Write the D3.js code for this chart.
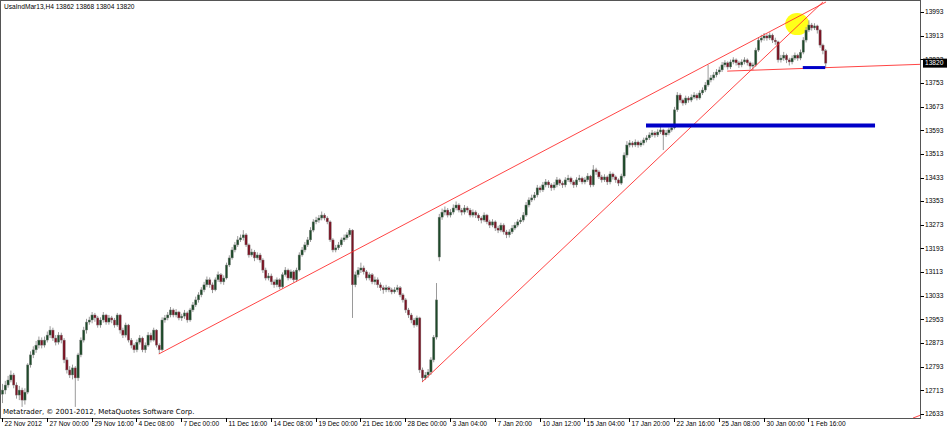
<!DOCTYPE html>
<html><head><meta charset="utf-8">
<script src="https://cdn.jsdelivr.net/npm/d3@7"></script>
<style>body{margin:0;background:#fff}svg{display:block}text{font-family:"Liberation Sans",Arial,sans-serif;font-size:6.6px;fill:#000}</style>
</head><body><svg id="c" width="949" height="429"></svg>
<script>
const opens=[12700,12714,12731,12748,12765,12731,12697,12714,12680,12707,12799,12833,12850,12866,12883,12866,12883,12900,12917,12890,12876,12900,12883,12816,12782,12765,12789,12755,12833,12883,12917,12944,12951,12968,12958,12934,12951,12968,12944,12958,12951,12934,12968,12917,12900,12934,12883,12866,12850,12876,12890,12850,12866,12900,12883,12917,12866,12850,12951,12958,12968,12985,12968,12978,12958,12964,12975,12951,12985,13002,13019,13036,13053,13070,13087,13070,13053,13087,13104,13080,13093,13137,13161,13188,13205,13222,13229,13239,13205,13171,13181,13161,13171,13154,13120,13093,13100,13080,13070,13087,13063,13104,13120,13093,13114,13087,13120,13171,13188,13205,13222,13255,13283,13289,13296,13306,13296,13283,13222,13188,13195,13205,13222,13229,13239,13255,13070,13104,13120,13127,13114,13093,13104,13080,13087,13070,13060,13053,13060,13053,13046,13053,13060,13036,13019,12985,12968,12951,12934,12958,12782,12755,12765,12775,12816,12893,13164,13299,13316,13323,13306,13316,13330,13340,13323,13316,13330,13323,13306,13316,13306,13296,13289,13306,13283,13272,13283,13262,13255,13272,13249,13239,13249,13262,13272,13283,13289,13306,13340,13357,13364,13374,13398,13391,13408,13418,13408,13398,13408,13425,13414,13408,13425,13431,13418,13408,13425,13431,13418,13425,13438,13408,13459,13452,13435,13425,13435,13418,13445,13435,13425,13414,13438,13509,13543,13550,13543,13553,13543,13550,13560,13567,13577,13584,13577,13587,13594,13577,13584,13594,13601,13662,13712,13695,13685,13702,13695,13705,13712,13702,13719,13729,13746,13763,13770,13780,13790,13797,13814,13821,13807,13824,13831,13821,13814,13824,13831,13821,13810,13814,13864,13898,13905,13912,13905,13915,13898,13892,13831,13837,13847,13831,13824,13837,13847,13837,13857,13898,13932,13949,13939,13946,13932,13881,13862];
const highs=[12735,12745,12762,12780,12772,12740,12728,12722,12720,12805,12845,12862,12880,12895,12892,12895,12912,12930,12925,12900,12910,12908,12890,12825,12795,12800,12795,12840,12892,12928,12955,12962,12978,12975,12965,12960,12978,12972,12968,12965,12958,12975,12972,12925,12942,12938,12890,12872,12885,12900,12895,12875,12910,12908,12925,12920,12872,12960,12968,12978,12995,12990,12988,12982,12972,12985,12980,12992,13012,13030,13045,13062,13080,13098,13095,13078,13095,13115,13110,13102,13145,13170,13198,13215,13235,13240,13255,13245,13210,13192,13188,13180,13178,13160,13128,13110,13108,13088,13095,13092,13112,13130,13125,13122,13120,13128,13180,13198,13215,13232,13265,13292,13300,13306,13318,13312,13302,13288,13228,13205,13215,13230,13240,13248,13262,13258,13115,13130,13145,13135,13120,13112,13110,13098,13095,13078,13068,13070,13066,13060,13062,13070,13066,13042,13025,12992,12975,12958,12966,12962,12790,12775,12785,12825,12900,13076,13310,13328,13335,13330,13326,13342,13352,13346,13330,13340,13336,13330,13325,13322,13312,13302,13315,13310,13290,13292,13288,13270,13280,13278,13256,13258,13272,13282,13292,13298,13316,13350,13366,13375,13384,13408,13405,13418,13428,13424,13414,13418,13435,13430,13420,13434,13442,13436,13424,13434,13442,13436,13434,13448,13442,13475,13466,13458,13442,13444,13440,13454,13450,13440,13430,13446,13518,13556,13560,13556,13562,13558,13558,13568,13576,13586,13594,13590,13596,13604,13598,13594,13602,13612,13672,13722,13718,13700,13710,13708,13714,13722,13718,13728,13738,13756,13814,13780,13790,13800,13808,13824,13830,13826,13832,13840,13836,13828,13833,13840,13836,13826,13822,13872,13908,13916,13922,13920,13924,13920,13906,13896,13848,13858,13852,13838,13846,13856,13852,13866,13908,13942,13965,13956,13955,13950,13936,13886,13868];
const lows=[12670,12700,12722,12740,12720,12685,12680,12657,12665,12700,12790,12822,12840,12855,12855,12858,12875,12890,12880,12865,12868,12872,12805,12770,12755,12750,12657,12745,12825,12875,12905,12935,12940,12945,12925,12925,12942,12935,12935,12940,12925,12928,12905,12890,12892,12875,12855,12840,12842,12868,12842,12840,12860,12875,12878,12858,12836,12845,12942,12950,12960,12960,12960,12950,12948,12955,12942,12945,12978,12995,13010,13028,13045,13062,13060,13042,13048,13080,13072,13070,13088,13130,13155,13180,13198,13215,13220,13198,13162,13165,13150,13155,13145,13110,13085,13085,13070,13060,13062,13055,13058,13098,13085,13088,13078,13080,13115,13165,13180,13198,13215,13248,13275,13280,13288,13288,13275,13215,13180,13180,13188,13198,13215,13222,13232,12958,13062,13095,13110,13105,13085,13085,13072,13070,13060,13050,13040,13045,13045,13038,13040,13045,13028,13010,12975,12958,12940,12925,12928,12772,12741,12748,12755,12765,12808,12885,13150,13290,13305,13298,13298,13308,13322,13315,13305,13308,13314,13298,13298,13296,13286,13278,13282,13275,13262,13265,13252,13245,13248,13240,13228,13230,13242,13255,13265,13276,13282,13300,13332,13350,13356,13366,13382,13384,13400,13398,13388,13390,13400,13405,13398,13400,13418,13410,13398,13400,13418,13410,13410,13418,13400,13402,13442,13428,13416,13418,13408,13410,13426,13415,13404,13408,13432,13500,13535,13535,13536,13534,13536,13542,13552,13560,13570,13568,13570,13580,13526,13570,13576,13588,13596,13655,13686,13676,13678,13686,13688,13698,13694,13696,13712,13722,13740,13755,13762,13772,13782,13790,13806,13798,13800,13816,13812,13804,13806,13816,13812,13798,13796,13808,13858,13890,13896,13896,13898,13888,13882,13822,13822,13828,13820,13812,13816,13830,13828,13830,13850,13890,13925,13930,13932,13920,13872,13850,13804];
const closes=[12714,12731,12748,12765,12731,12697,12714,12680,12707,12799,12833,12850,12866,12883,12866,12883,12900,12917,12890,12876,12900,12883,12816,12782,12765,12789,12755,12833,12883,12917,12944,12951,12968,12958,12934,12951,12968,12944,12958,12951,12934,12968,12917,12900,12934,12883,12866,12850,12876,12890,12850,12866,12900,12883,12917,12866,12850,12951,12958,12968,12985,12968,12978,12958,12964,12975,12951,12985,13002,13019,13036,13053,13070,13087,13070,13053,13087,13104,13080,13093,13137,13161,13188,13205,13222,13229,13239,13205,13171,13181,13161,13171,13154,13120,13093,13100,13080,13070,13087,13063,13104,13120,13093,13114,13087,13120,13171,13188,13205,13222,13255,13283,13289,13296,13306,13296,13283,13222,13188,13195,13205,13222,13229,13239,13255,13070,13104,13120,13127,13114,13093,13104,13080,13087,13070,13060,13053,13060,13053,13046,13053,13060,13036,13019,12985,12968,12951,12934,12958,12782,12755,12765,12775,12816,12893,13019,13299,13316,13323,13306,13316,13330,13340,13323,13316,13330,13323,13306,13316,13306,13296,13289,13306,13283,13272,13283,13262,13255,13272,13249,13239,13249,13262,13272,13283,13289,13306,13340,13357,13364,13374,13398,13391,13408,13418,13408,13398,13408,13425,13414,13408,13425,13431,13418,13408,13425,13431,13418,13425,13438,13408,13459,13452,13435,13425,13435,13418,13445,13435,13425,13414,13438,13509,13543,13550,13543,13553,13543,13550,13560,13567,13577,13584,13577,13587,13594,13577,13584,13594,13601,13662,13712,13695,13685,13702,13695,13705,13712,13702,13719,13729,13746,13763,13770,13780,13790,13797,13814,13821,13807,13824,13831,13821,13814,13824,13831,13821,13810,13814,13864,13898,13905,13912,13905,13915,13898,13892,13831,13837,13847,13831,13824,13837,13847,13837,13857,13898,13932,13949,13939,13946,13932,13881,13862,13820];
const xLabels=["22 Nov 2012","27 Nov 00:00","29 Nov 16:00","4 Dec 08:00","7 Dec 00:00","11 Dec 16:00","14 Dec 08:00","19 Dec 00:00","21 Dec 16:00","28 Dec 00:00","3 Jan 04:00","7 Jan 20:00","10 Jan 12:00","15 Jan 04:00","17 Jan 20:00","22 Jan 16:00","25 Jan 08:00","30 Jan 00:00","1 Feb 16:00"];
const xLabelIdx=[0,16,32,48,64,80,96,112,128,144,160,176,192,208,224,240,256,272,288];
const yTicks=[12633,12713,12793,12873,12953,13033,13113,13193,13273,13353,13433,13513,13593,13673,13753,13833,13913,13993];
const title="UsaIndMar13,H4  13862 13868 13804 13820";
const copyright="Metatrader, © 2001-2012, MetaQuotes Software Corp.";
const lastPrice=13820;
// trend objects: [idx1, price1, idx2, price2]
const redLines=[[56,12836,294.3,14027],[150,12741,293.2,14027],[259,13793,328,13816]];
const blueLines=[[230,13609,311.8,13609,4],[286,13805,294,13805,3]];
const circle=[284,13952];

const svg=d3.select("#c");
const L=1,R=920,T=1,B=418;
const x=d3.scaleLinear().domain([0,294]).range([2,825.2]);
const y=d3.scaleLinear().domain([12633,13993]).range([414,12]);
svg.append("defs").append("clipPath").attr("id","cp").append("rect").attr("x",L).attr("y",T).attr("width",R-L).attr("height",B-T);
const g=svg.append("g").attr("clip-path","url(#cp)");
g.append("ellipse").attr("cx",x(circle[0])).attr("cy",y(circle[1])).attr("rx",12).attr("ry",11).attr("fill","#ffff00").attr("opacity",0.9);
const data=closes.map((c,i)=>({i,o:opens[i],h:highs[i],l:lows[i],c}));
g.selectAll("line.w").data(data).join("line").attr("x1",d=>x(d.i)+0.5).attr("x2",d=>x(d.i)+0.5).attr("y1",d=>y(d.h)).attr("y2",d=>y(d.l)).attr("stroke","#9a9a9a").attr("stroke-width",1);
g.selectAll("rect.b").data(data).join("rect").attr("x",d=>x(d.i)-0.7).attr("width",2.4).attr("y",d=>y(Math.max(d.o,d.c))).attr("height",d=>Math.max(1,Math.abs(y(d.o)-y(d.c)))).attr("fill",d=>d.c>=d.o?"#1e4a2a":"#7a1424").attr("stroke","#8a8a8a").attr("stroke-width",0.4);
redLines.forEach(l=>g.append("line").attr("x1",x(l[0])).attr("y1",y(l[1])).attr("x2",x(l[2])).attr("y2",y(l[3])).attr("stroke","#ff3030").attr("stroke-width",0.9));
blueLines.forEach(l=>g.append("line").attr("x1",x(l[0])).attr("y1",y(l[1])).attr("x2",x(l[2])).attr("y2",y(l[3])).attr("stroke","#0000c8").attr("stroke-width",l[4]));
svg.append("line").attr("x1",913).attr("y1",418).attr("x2",921).attr("y2",415).attr("stroke","#ff3030").attr("stroke-width",0.9);
// frame
svg.append("rect").attr("x",0.5).attr("y",0.5).attr("width",R).attr("height",B).attr("fill","none").attr("stroke","#555").attr("stroke-width",1);
// y axis
yTicks.forEach(v=>{svg.append("line").attr("x1",R+0.5).attr("x2",R+4).attr("y1",Math.round(y(v))+0.5).attr("y2",Math.round(y(v))+0.5).attr("stroke","#000");
svg.append("text").attr("x",925).attr("y",y(v)+2.3).text(v);});
svg.append("rect").attr("x",923).attr("y",y(lastPrice)-4.5).attr("width",24).attr("height",9).attr("fill","#000");
svg.append("text").attr("x",925).attr("y",y(lastPrice)+2.3).style("fill","#fff").text(lastPrice);
// x axis
xLabelIdx.forEach((k,j)=>{const px=Math.round(x(k))+0.5;svg.append("line").attr("x1",px).attr("x2",px).attr("y1",B).attr("y2",B+4).attr("stroke","#000");
svg.append("text").attr("x",px+2).attr("y",426).text(xLabels[j]);});
svg.append("text").attr("x",4).attr("y",9).text(title);
svg.append("text").attr("x",3).attr("y",414).style("font-family","'DejaVu Sans',sans-serif").style("font-size","7px").text(copyright);
</script></body></html>
